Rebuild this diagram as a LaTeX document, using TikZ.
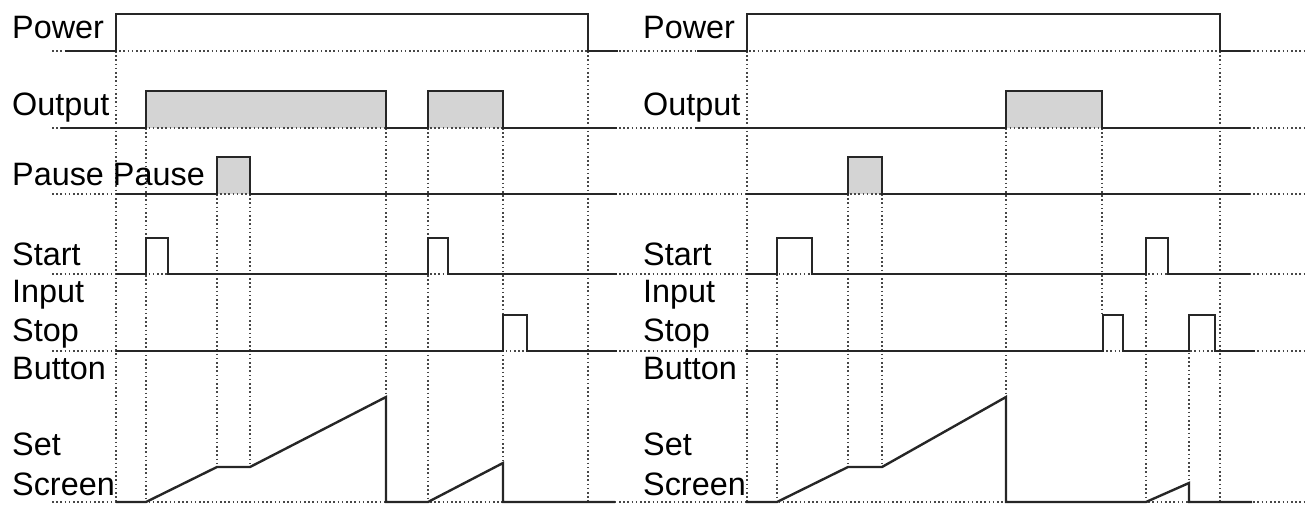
\documentclass[tikz,border=0pt]{standalone}
\usepackage{fontspec}
\setmainfont{Liberation Sans}
\begin{document}
\begin{tikzpicture}[x=1bp,y=-1bp,
  sig/.style={line width=2.4bp, draw=black!85, line join=miter},
  guide/.style={line width=1.9bp, draw=black!72, dash pattern=on 1.6bp off 2.6bp},
  boxfill/.style={fill=black!17, draw=none},
  lbl/.style={anchor=base west, inner sep=0pt, font=\fontsize{32.5}{38}\selectfont}]
\useasboundingbox (0,0) rectangle (1307,506);
% shaded high states
\fill[boxfill] (146,91) rectangle (386,128);
\fill[boxfill] (428,91) rectangle (503,128);
\fill[boxfill] (217,157) rectangle (250,194);
\fill[boxfill] (1006,91) rectangle (1102,128);
\fill[boxfill] (848,157) rectangle (882,194);
% horizontal guides
\foreach \yy in {51,128,194,274,351,502}
  \draw[guide] (52,\yy) -- (1305,\yy);
% vertical guides, left
\draw[guide] (116,51) -- (116,502);
\draw[guide] (146,128) -- (146,502);
\draw[guide] (217,194) -- (217,467);
\draw[guide] (250,194) -- (250,467);
\draw[guide] (386,128) -- (386,397);
\draw[guide] (428,128) -- (428,502);
\draw[guide] (503,128) -- (503,463);
\draw[guide] (588,51) -- (588,502);
% vertical guides, right
\draw[guide] (747,51) -- (747,502);
\draw[guide] (777,274) -- (777,502);
\draw[guide] (848,194) -- (848,467);
\draw[guide] (882,194) -- (882,467);
\draw[guide] (1006,128) -- (1006,397);
\draw[guide] (1102,128) -- (1102,315);
\draw[guide] (1146,274) -- (1146,502);
\draw[guide] (1189,315) -- (1189,483);
\draw[guide] (1220,51) -- (1220,502);
% signals, left
\draw[sig] (65,51) -- (116,51) -- (116,14) -- (588,14) -- (588,51) -- (618,51);
\draw[sig] (61,128) -- (146,128) -- (146,91) -- (386,91) -- (386,128) -- (428,128) -- (428,91) -- (503,91) -- (503,128) -- (617,128);
\draw[sig] (116,194) -- (217,194) -- (217,157) -- (250,157) -- (250,194) -- (617,194);
\draw[sig] (116,274) -- (146,274) -- (146,238) -- (168,238) -- (168,274) -- (428,274) -- (428,238) -- (448,238) -- (448,274) -- (617,274);
\draw[sig] (116,351) -- (503,351) -- (503,315) -- (527,315) -- (527,351) -- (617,351);
\draw[sig] (116,502) -- (146,502) -- (217,467) -- (250,467) -- (386,397) -- (386,502) -- (428,502) -- (503,463) -- (503,502) -- (615,502);
% signals, right
\draw[sig] (697,51) -- (747,51) -- (747,14) -- (1220,14) -- (1220,51) -- (1250,51);
\draw[sig] (695,128) -- (1006,128) -- (1006,91) -- (1102,91) -- (1102,128) -- (1250,128);
\draw[sig] (746,194) -- (848,194) -- (848,157) -- (882,157) -- (882,194) -- (1250,194);
\draw[sig] (746,274) -- (777,274) -- (777,238) -- (812,238) -- (812,274) -- (1146,274) -- (1146,238) -- (1168,238) -- (1168,274) -- (1250,274);
\draw[sig] (746,351) -- (1103,351) -- (1103,315) -- (1123,315) -- (1123,351) -- (1189,351) -- (1189,315) -- (1215,315) -- (1215,351) -- (1255,351);
\draw[sig] (746,502) -- (777,502) -- (848,467) -- (882,467) -- (1006,397) -- (1006,502) -- (1146,502) -- (1189,483) -- (1189,502) -- (1252,502);
% labels, left
\node[lbl] (lpower) at (12,39) {Power};
\node[lbl] (loutput) at (12,116) {Output};
\node[lbl] (lpause) at (12,186) {Pause Pause};
\node[lbl] (lstart) at (12,265) {Start};
\node[lbl] (linput) at (12,302) {Input};
\node[lbl] (lstop) at (12,341) {Stop};
\node[lbl] (lbutton) at (12,379) {Button};
\node[lbl] (lset) at (12,455) {Set};
\node[lbl] (lscreen) at (12,495) {Screen};
% labels, right
\node[lbl] (rpower) at (643,39) {Power};
\node[lbl] (routput) at (643,116) {Output};
\node[lbl] (rstart) at (643,265) {Start};
\node[lbl] (rinput) at (643,302) {Input};
\node[lbl] (rstop) at (643,341) {Stop};
\node[lbl] (rbutton) at (643,379) {Button};
\node[lbl] (rset) at (643,455) {Set};
\node[lbl] (rscreen) at (643,495) {Screen};
\end{tikzpicture}
\end{document}
